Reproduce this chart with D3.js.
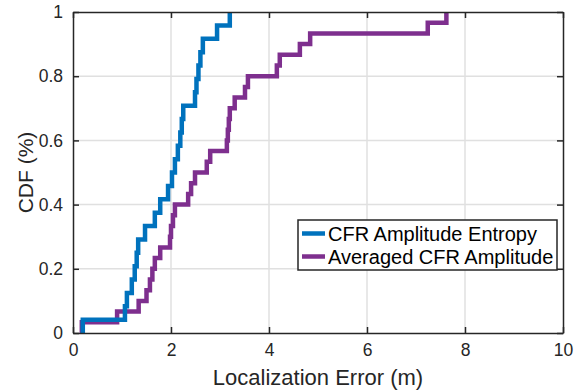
<!DOCTYPE html>
<html>
<head>
<meta charset="utf-8">
<script src="https://cdn.jsdelivr.net/npm/d3@7"></script>
<style>
  body { margin: 0; background: #fff; }
  svg { font-family: "Liberation Sans", Arial, sans-serif; }
</style>
</head>
<body>
<div id="chart"></div>
<script>
// sorted error samples (m)
const entropyErr = [0.2, 1.06, 1.1, 1.2, 1.26, 1.3, 1.33, 1.47, 1.67, 1.78, 1.94, 2.02,
  2.08, 2.14, 2.19, 2.22, 2.25, 2.49, 2.52, 2.56, 2.6, 2.65, 2.94, 3.2];
const averagedErr = [0.18, 0.9, 1.34, 1.5, 1.57, 1.62, 1.67, 1.78, 1.98, 2.0, 2.04, 2.08,
  2.35, 2.41, 2.49, 2.73, 2.8, 3.14, 3.16, 3.18, 3.2, 3.3, 3.51, 3.57, 4.16, 4.22,
  4.63, 4.84, 7.24, 7.62];
const seriesNames = ["CFR Amplitude Entropy", "Averaged CFR Amplitude"];
const seriesColors = ["#0072BD", "#7E2F8E"];
const xTicks = [0, 2, 4, 6, 8, 10];
const yTicks = [0, 0.2, 0.4, 0.6, 0.8, 1];

const W = 584, H = 390;
const mLeft = 73, mRight = 563, mTop = 12, mBottom = 333;
const axisColor = "#262626";

const svg = d3.select("#chart").append("svg")
  .attr("width", W).attr("height", H);

const x = d3.scaleLinear().domain([0, 10]).range([mLeft, mRight]);
const y = d3.scaleLinear().domain([0, 1]).range([mBottom, mTop]);

// grid
svg.append("g").selectAll("line").data(xTicks.slice(1, -1)).enter().append("line")
  .attr("x1", d => x(d)).attr("x2", d => x(d))
  .attr("y1", mTop).attr("y2", mBottom)
  .attr("stroke", "#e0e0e0").attr("stroke-width", 1.5);
svg.append("g").selectAll("line").data(yTicks.slice(1, -1)).enter().append("line")
  .attr("x1", mLeft).attr("x2", mRight)
  .attr("y1", d => y(d)).attr("y2", d => y(d))
  .attr("stroke", "#e0e0e0").attr("stroke-width", 1.5);

// ecdf stairs
function cdfPoints(vals) {
  const n = vals.length;
  const pts = [[vals[0], 0]];
  vals.forEach((v, i) => {
    if (i > 0) pts.push([v, i / n]);
    pts.push([v, (i + 1) / n]);
  });
  return pts;
}
const line = d3.line().x(d => x(d[0])).y(d => y(d[1]));

[averagedErr, entropyErr].forEach((vals, k) => {
  const ci = k === 0 ? 1 : 0;
  svg.append("path")
    .datum(cdfPoints(vals))
    .attr("d", line)
    .attr("fill", "none")
    .attr("stroke", seriesColors[ci])
    .attr("stroke-width", 4.5)
    .attr("stroke-linejoin", "miter");
});

// axes box + inward ticks
const xb = d3.axisBottom(x).tickValues(xTicks).tickSizeInner(-6).tickSizeOuter(0).tickPadding(11);
const yl = d3.axisLeft(y).tickValues(yTicks).tickSizeInner(-6).tickSizeOuter(0).tickPadding(10)
  .tickFormat(d => d === 0 || d === 1 ? d : d3.format(".1f")(d));
const xt = d3.axisTop(x).tickValues(xTicks).tickSizeInner(-6).tickSizeOuter(0).tickFormat("");
const yr = d3.axisRight(y).tickValues(yTicks).tickSizeInner(-6).tickSizeOuter(0).tickFormat("");

function styleAxis(g) {
  g.selectAll("path, line").attr("stroke", axisColor).attr("stroke-width", 1.5);
  g.selectAll("text").attr("fill", axisColor).style("font-size", "17.5px")
    .style("font-family", "'Liberation Sans', Arial, sans-serif");
}
svg.append("g").attr("transform", `translate(0,${mBottom})`).call(xb).call(styleAxis);
svg.append("g").attr("transform", `translate(${mLeft},0)`).call(yl).call(styleAxis);
svg.append("g").attr("transform", `translate(0,${mTop})`).call(xt).call(styleAxis);
svg.append("g").attr("transform", `translate(${mRight},0)`).call(yr).call(styleAxis);

// axis labels
svg.append("text")
  .attr("x", (mLeft + mRight) / 2).attr("y", 385)
  .attr("text-anchor", "middle")
  .attr("fill", axisColor).style("font-size", "22px")
  .text("Localization Error (m)");
svg.append("text")
  .attr("transform", `translate(33,${(mTop + mBottom) / 2}) rotate(-90)`)
  .attr("text-anchor", "middle")
  .attr("fill", axisColor).style("font-size", "21px")
  .text("CDF (%)");

// legend
const lg = svg.append("g").attr("transform", "translate(298,220)");
lg.append("rect").attr("width", 259).attr("height", 50)
  .attr("fill", "#fff").attr("stroke", axisColor).attr("stroke-width", 1.5);
seriesNames.forEach((name, i) => {
  const cy = 13.5 + i * 23;
  lg.append("line").attr("x1", 4).attr("x2", 27).attr("y1", cy).attr("y2", cy)
    .attr("stroke", seriesColors[i]).attr("stroke-width", 4.5);
  lg.append("text").attr("x", 30).attr("y", cy).attr("dy", "0.35em")
    .attr("fill", "#000").style("font-size", "20px").text(name);
});
</script>
</body>
</html>
